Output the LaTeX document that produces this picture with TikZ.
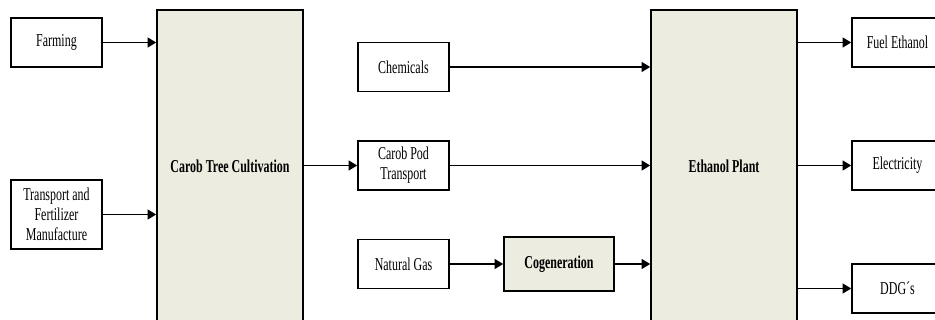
\documentclass[tikz,border=0pt]{standalone}
\usepackage{fontspec}
\setmainfont[FakeStretch=0.66]{Liberation Serif}
\usetikzlibrary{arrows.meta}
\definecolor{stagefill}{RGB}{236,236,224}

\begin{document}
\begin{tikzpicture}[x=0.75pt,y=-0.75pt,->,>={Triangle[length=6.5pt,width=7.5pt]},
  line width=1.2pt,
  flow node/.style={draw,fill=white,minimum width=68.25pt,minimum height=37pt,
    align=center,inner sep=1pt,font=\fontsize{13.6}{15}\selectfont},
  stage node/.style={flow node,fill=stagefill,font=\fontsize{13.6}{15}\selectfont\bfseries},
  plant node/.style={stage node,minimum width=109.5pt,minimum height=234pt}]

  \clip (0,0) rectangle (935,320);

  \node[flow node] (farm) at (56.5,42.5) {Farming};
  \node[flow node,minimum height=51.75pt] (fert) at (56.5,214.5) {Transport and\\Fertilizer\\Manufacture};
  \node[plant node] (cult) at (230,166) {Carob Tree Cultivation};
  \node[flow node] (chem) at (403.5,67) {Chemicals};
  \node[flow node] (pod) at (403.5,165.5) {Carob Pod\\Transport};
  \node[flow node] (gas) at (403.5,264) {Natural Gas};
  \node[stage node,minimum width=82.5pt,minimum height=40.5pt] (cogen) at (559,264) {Cogeneration};
  \node[plant node] (plant) at (724,166) {Ethanol Plant};
  \node[flow node] (fuel) at (897.5,42.5) {Fuel Ethanol};
  \node[flow node] (elec) at (897.5,165.5) {Electricity};
  \node[flow node] (ddg) at (897.5,288.5) {DDG´s};

  \path
    (farm) edge (farm -| cult.west)
    (fert) edge (fert -| cult.west)
    (pod -| cult.east) edge (pod)
    (chem) edge (chem -| plant.west)
    (pod) edge (pod -| plant.west)
    (gas) edge (cogen)
    (cogen) edge (cogen -| plant.west)
    (fuel -| plant.east) edge (fuel)
    (elec -| plant.east) edge (elec)
    (ddg -| plant.east) edge (ddg);

\end{tikzpicture}
\end{document}
